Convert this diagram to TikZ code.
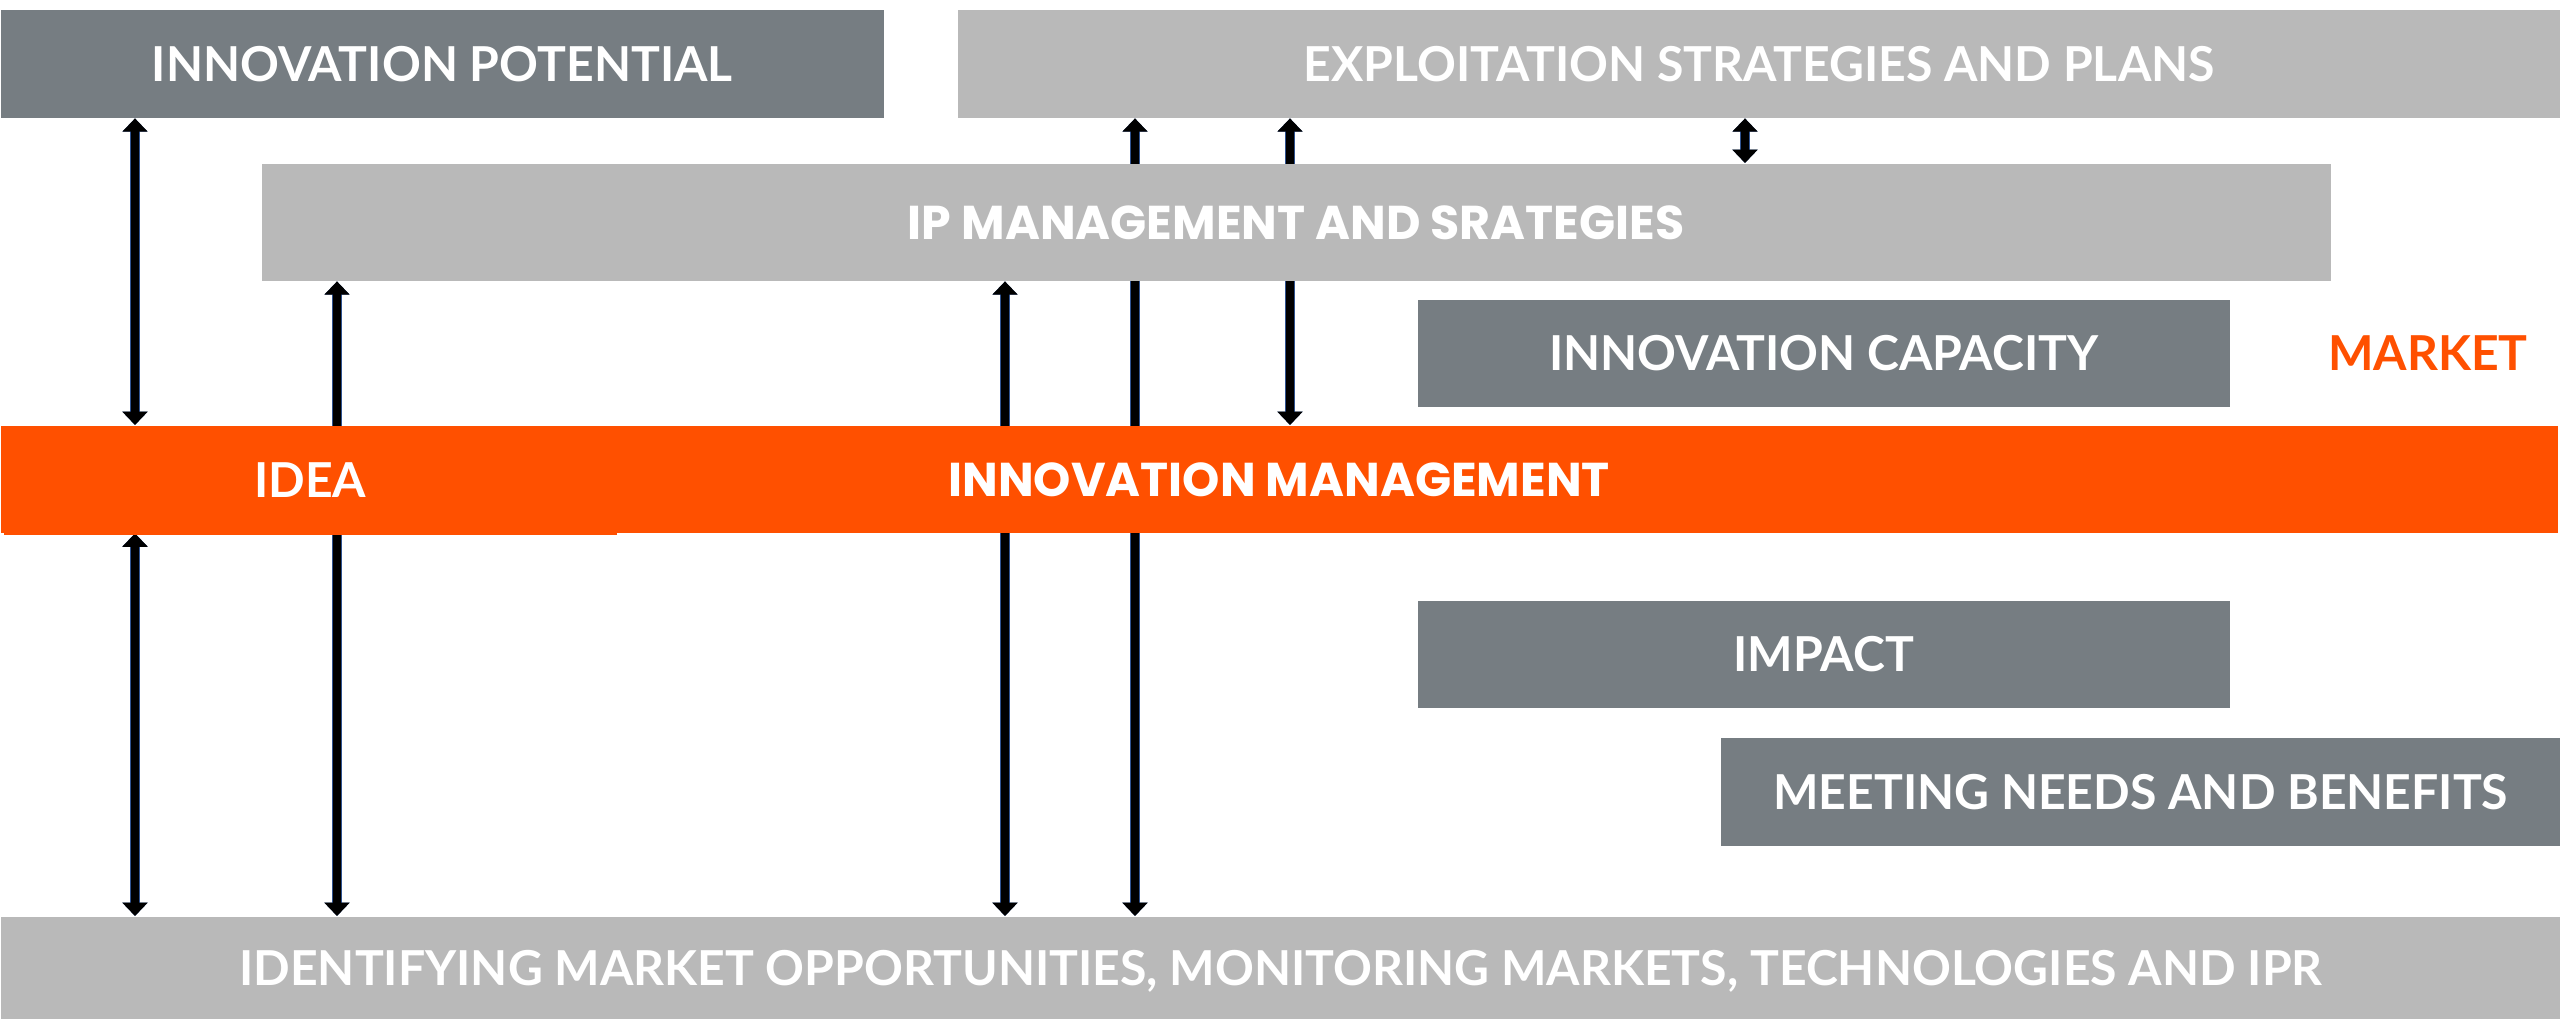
\documentclass[tikz,border=0pt]{standalone}
\usepackage{fontspec}
\setmainfont{Lato}
\newfontfamily\wideface{Poppins}
\usetikzlibrary{arrows.meta,backgrounds}
\definecolor{slate}{HTML}{767D82}
\definecolor{silver}{HTML}{B9B9B9}
\definecolor{blaze}{HTML}{FF5000}
\definecolor{rim}{HTML}{2F528F}

\begin{document}
\begin{tikzpicture}[x=0.1mm,y=-0.1mm,
  box/.style={anchor=north west,inner sep=0pt,text=white,text depth=0pt,font=\bfseries\fontsize{13.7}{16}\selectfont},
  dark/.style={box,fill=slate},
  light/.style={box,fill=silver},
  hot/.style={box,fill=blaze},
  wide/.style={font=\wideface\bfseries\fontsize{13.5}{16}\selectfont},
  link/.style={line width=2.1pt,black,{Triangle[width=7pt,length=3.8pt]}-{Triangle[width=7pt,length=3.8pt]},
    preaction={draw=rim,line width=3pt}}]
  \useasboundingbox (0,0) rectangle (2560,1019);

  \node[dark]  (pot)    at (0,9)      [minimum width=88.3mm,minimum height=10.8mm]  {INNOVATION POTENTIAL};
  \node[light] (expl)   at (957,9)    [minimum width=160.3mm,minimum height=10.8mm] {EXPLOITATION STRATEGIES AND PLANS};
  \node[light,wide] (ip) at (261,163) [minimum width=206.9mm,minimum height=11.7mm] {IP MANAGEMENT AND SRATEGIES};
  \node[dark]  (cap)    at (1417,299) [minimum width=81.2mm,minimum height=10.7mm]  {INNOVATION CAPACITY};
  \node[hot,wide] (band) at (0,425)   [minimum width=255.7mm,minimum height=10.7mm] {INNOVATION MANAGEMENT};
  \node[hot]   (idea)   at (3,425)    [minimum width=61.3mm,minimum height=10.9mm]  {IDEA};
  \node[dark]  (impact) at (1417,600) [minimum width=81.2mm,minimum height=10.7mm]  {IMPACT};
  \node[dark]  (needs)  at (1720,737) [minimum width=84mm,minimum height=10.8mm]    {MEETING NEEDS AND BENEFITS};
  \node[light] (floor)  at (0,916)    [minimum width=256mm,minimum height=10.3mm]   {IDENTIFYING MARKET OPPORTUNITIES, MONITORING MARKETS, TECHNOLOGIES AND IPR};
  \node[box,anchor=center,text=blaze] (market) at (2428,353) {MARKET};

  \coordinate (k1) at (135,0);
  \coordinate (k2) at (337,0);
  \coordinate (k3) at (1005,0);
  \coordinate (k4) at (1135,0);
  \coordinate (k5) at (1290,0);
  \coordinate (k6) at (1745,0);

  \begin{scope}[on background layer]
    \draw[link] (k1 |- pot.south)  -- (k1 |- band.north);
    \draw[link] (k1 |- band.south) -- (k1 |- floor.north);
    \draw[link] (k2 |- ip.south)   -- (k2 |- floor.north);
    \draw[link] (k3 |- ip.south)   -- (k3 |- floor.north);
    \draw[link] (k4 |- expl.south) -- (k4 |- floor.north);
    \draw[link] (k5 |- expl.south) -- (k5 |- band.north);
    \draw[link] (k6 |- expl.south) -- (k6 |- ip.north);
  \end{scope}
\end{tikzpicture}
\end{document}
